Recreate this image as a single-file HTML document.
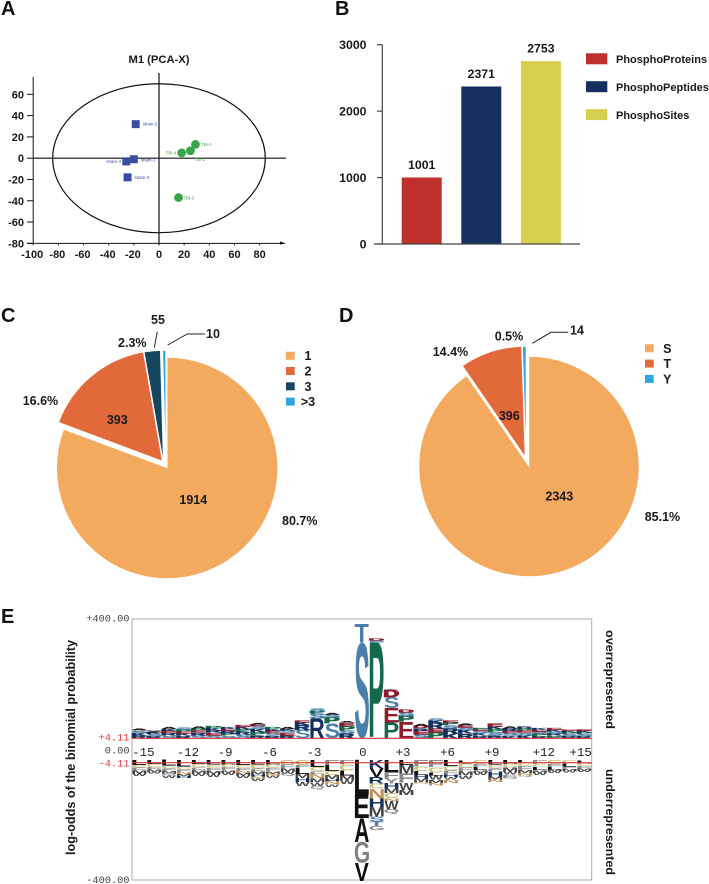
<!DOCTYPE html>
<html lang="en">
<head>
<meta charset="utf-8">
<title>Phosphoproteomics figure</title>
<style>
html,body{margin:0;padding:0;background:#fff;}
svg{display:block;font-family:"Liberation Sans",Arial,sans-serif;}
.b{font-weight:bold;fill:#1a1a1a;}
.m{font-family:"Liberation Mono",monospace;}
</style>
</head>
<body>
<svg id="fig" xmlns="http://www.w3.org/2000/svg" width="709" height="884" viewBox="0 0 709 884">
  <rect x="0" y="0" width="709" height="884" fill="#fff"/>
  <text x="1" y="15" font-size="20" font-weight="bold" fill="#111">A</text>
  <text x="335" y="15" font-size="20" font-weight="bold" fill="#111">B</text>
  <text x="1" y="322" font-size="20" font-weight="bold" fill="#111">C</text>
  <text x="339" y="322" font-size="20" font-weight="bold" fill="#111">D</text>
  <text x="1" y="623" font-size="20" font-weight="bold" fill="#111">E</text>

  <g id="panelA">
    <text class="b" x="159" y="63" font-size="11.2" text-anchor="middle">M1 (PCA-X)</text>
  </g>
  <g id="panelB"></g>
  <g id="panelC"></g>
  <g id="panelD"></g>
  <g id="panelE">
    <text class="b" transform="translate(75 855) rotate(-90)" font-size="12.5" textLength="215" lengthAdjust="spacingAndGlyphs">log-odds of the binomial probability</text>
    <text class="b" transform="translate(606 630) rotate(90)" font-size="11.5" textLength="99" lengthAdjust="spacingAndGlyphs">overrepresented</text>
    <text class="b" transform="translate(606 769) rotate(90)" font-size="11.5" textLength="106" lengthAdjust="spacingAndGlyphs">underrepresented</text>
  </g>
</svg>

<script>
// ---------- Panel A data ----------
var pcaXTicks = [-100,-80,-60,-40,-20,0,20,40,60,80];
var pcaYTicks = [60,40,20,0,-20,-40,-60,-80];
var pcaLabels = ['sham-1','sham-2','sham-3','sham-4','TBI-1','TBI-2','TBI-3','TBI-4'];
var pcaXValues = [-20,-18.5,-25,-26,29,25,15.5,18];
var pcaYValues = [-1,32,-18,-3,13,7,-37,5];
var pcaEllipseX = 84.5;
var pcaEllipseY = 70;

// ---------- Panel B data ----------
var barCategories = ['PhosphoProteins','PhosphoPeptides','PhosphoSites'];
var barValues = [1001,2371,2753];
var barTicks = [0,1000,2000,3000];

// ---------- Panel C data ----------
var cCategories = ['1','2','3','>3'];
var cValues = [1914,393,55,10];
var cPercentLabels = ['80.7%','16.6%','2.3%',''];

// ---------- Panel D data ----------
var dCategories = ['S','T','Y'];
var dCounts = [2343,396,14];
var dPercentLabels = ['85.1%','14.4%','0.5%'];
// slice shares as actually drawn in the picture (%)
var dDrawnShares = [90.4,9.1,0.5];

// ---------- Panel E data ----------
var logoPositions = ['-15','-14','-13','-12','-11','-10','-9','-8','-7','-6','-5','-4','-3','-2','-1','0','+1','+2','+3','+4','+5','+6','+7','+8','+9','+10','+11','+12','+13','+14','+15'];
var logoTickLabels = ['-15','-12','-9','-6','-3','0','+3','+6','+9','+12','+15'];
var logoUpper = [
 'R:9 K:7 S:5 G:4 A:3','R:7 S:6 K:5 A:3 G:3','S:8 R:8 E:7 K:6 A:6','R:8 K:7 E:6 P:6 S:5','S:9 R:8 E:7 P:6 A:5',
 'S:9 E:8 R:7 K:7 P:6','S:8 P:7 R:7 E:6 K:6','S:11 R:9 P:8 K:7 E:5','R:10 P:9 K:9 S:9 E:5 A:4','R:8 S:8 E:7 K:6 P:5',
 'R:9 E:8 S:7 K:5 A:5','S:25 R:15 K:9 E:5','R:61 S:15 P:8 S:7','S:46 P:18 S:9 A:4','R:15 S:9 P:14 E:10 A:3',
 'S:293 T:58','P:293 S:6 D:6','P:48 E:44 S:34 D:22 A:2','E:51 P:17 S:11 D:10','S:12 E:11 R:8 D:7 A:5',
 'P:18 E:12 R:17 K:8 S:6','K:15 R:15 S:10 P:9 E:6','R:14 K:11 S:8 E:7 A:4','R:8 K:7 S:7 E:5 P:4','R:10 S:9 P:9 K:8 E:10',
 'K:8 S:8 E:7 R:7 A:5','K:9 S:8 E:7 P:6 R:5','R:7 P:7 S:6 E:6 K:5','P:8 R:7 S:6 K:5 E:5','R:7 S:6 P:5 K:4 E:3','R:7 S:6 P:5 K:5 E:4'
];
var logoLower = [
 'L:15 C:8 F:9 M:9 W:8','L:12 C:9 F:8 M:7 W:5','L:17 C:9 F:7 M:8 Q:7 W:7','L:20 C:9 F:8 N:6 M:7 H:5','L:12 C:10 F:10 M:9 W:8',
 'L:14 C:10 F:9 M:10 W:9','L:13 C:9 F:9 M:8 W:7','L:15 C:10 F:9 N:6 M:8 W:7','L:14 C:12 F:9 M:10 H:6 N:5 W:8','L:14 C:11 F:9 M:8 N:6 W:7',
 'C:15 F:11 M:9 W:7 Q:7','C:15 F:10 L:18 M:12 H:12 W:12','L:22 C:12 F:10 N:13 M:12 W:10 Q:10','F:16 L:18 C:12 M:12 H:7 N:9 W:8','F:14 C:18 L:16 M:13 W:12',
 'L:107 E:70 A:73 G:64 V:55','K:26 V:26 R:20 C:15 N:30 H:26 M:30 S:15 T:14 G:12','L:36 F:20 Y:15 H:17 M:13 C:15 N:10 W:25 Q:14','L:16 M:25 F:28 W:22 M:16','F:20 C:14 L:12 H:9 M:12 N:4',
 'F:22 C:16 L:10 W:12 M:10 N:8','L:18 C:14 F:12 H:8 W:8 N:10','L:10 C:14 F:12 M:12 W:10','C:12 F:10 L:9 M:8 W:7','L:14 C:12 F:8 H:16 M:10 N:7',
 'L:12 C:11 M:12 W:10 F:8 Q:5','L:9 C:10 F:12 M:9 N:6 Q:6','F:12 C:10 L:9 M:8 W:7','C:12 F:9 L:8 M:6 W:5','C:10 L:10 F:7 M:6 W:5','L:10 C:9 F:7 M:6 W:5'
];

// ---------- helpers ----------
var NS = 'http://www.w3.org/2000/svg';
function el(parent, tag, attrs, txt) {
  var e = document.createElementNS(NS, tag);
  for (var k in attrs) e.setAttribute(k, attrs[k]);
  if (txt !== undefined) e.textContent = txt;
  parent.appendChild(e);
  return e;
}
function named(e, name, inter) {
  
  
  return e;
}

// ---------- Panel A ----------
(function () {
  var g = document.getElementById('panelA');
  function px(v) { return 159 + v * 1.258; }
  function py(v) { return 158.2 - v * 1.064; }
  var axisY = py(-80), axisX = px(-100);
  var ell = el(g, 'ellipse', {cx: px(0), cy: py(0), rx: pcaEllipseX * 1.258, ry: pcaEllipseY * 1.064, fill: 'none', stroke: '#111', 'stroke-width': 1.2});
  named(ell, 'hotelling-ellipse', false);
  var yAxis = el(g, 'line', {x1: axisX, x2: axisX, y1: 77, y2: axisY, stroke: '#111', 'stroke-width': 1});
  named(yAxis, 'pca-y-axis', false);
  var xAxis = el(g, 'line', {x1: 27, x2: 284, y1: axisY, y2: axisY, stroke: '#111', 'stroke-width': 1});
  named(xAxis, 'pca-x-axis', false);
  var arrow = el(g, 'polygon', {points: '280,' + (axisY - 1.8) + ' 286,' + axisY + ' 280,' + (axisY + 1.2), fill: '#111'});
  named(arrow, 'pca-x-axis-arrow', false);
  var c1 = el(g, 'line', {x1: px(0), x2: px(0), y1: 73, y2: axisY, stroke: '#111', 'stroke-width': 1.2});
  named(c1, 'pca-zero-vertical', false);
  var c2 = el(g, 'line', {x1: axisX, x2: 286, y1: py(0), y2: py(0), stroke: '#111', 'stroke-width': 1.2});
  named(c2, 'pca-zero-horizontal', false);
  pcaYTicks.forEach(function (t) {
    var tick = el(g, 'line', {x1: 27, x2: axisX, y1: py(t), y2: py(t), stroke: '#111', 'stroke-width': 1});
    named(tick, 'pca-y-tick', false);
    var lab = el(g, 'text', {x: 24, y: py(t) + 4, 'font-size': 11, 'text-anchor': 'end', 'class': 'b'}, String(t));
    named(lab, 'pca-y-tick-label', false);
  });
  pcaXTicks.forEach(function (t) {
    var tick = el(g, 'line', {x1: px(t), x2: px(t), y1: axisY, y2: axisY + 2, stroke: '#111', 'stroke-width': 1});
    named(tick, 'pca-x-tick', false);
    var lab = el(g, 'text', {x: px(t) - (t < 0 ? 1 : 0), y: 258, 'font-size': 11, 'text-anchor': 'middle', 'class': 'b'}, String(t));
    named(lab, 'pca-x-tick-label', false);
  });
  var labelOffsets = {'sham-1': [7, 2], 'sham-2': [7, 1.5], 'sham-3': [7, 1.5], 'sham-4': [-20, 1.5], 'TBI-1': [5.5, 1.5], 'TBI-2': [4, 10], 'TBI-3': [5, 2], 'TBI-4': [-16, 1.5]};
  pcaLabels.forEach(function (name, i) {
    var x = px(pcaXValues[i]), y = py(pcaYValues[i]);
    var isSham = name.indexOf('sham') === 0;
    var col = isSham ? '#3a4da0' : '#3aa548';
    var mark;
    if (isSham) {
      mark = el(g, 'rect', {x: x - 4, y: y - 4, width: 8, height: 8, fill: col});
    } else {
      mark = el(g, 'circle', {cx: x, cy: y, r: 4.4, fill: col});
    }
    named(mark, 'pca-point-' + name.toLowerCase(), false);
    var off = labelOffsets[name];
    var lab = el(g, 'text', {x: x + off[0], y: y + off[1], 'font-size': 4.4, fill: col}, name);
    named(lab, 'pca-point-label', false);
  });
})();

// ---------- Panel B ----------
(function () {
  var g = document.getElementById('panelB');
  var colors = ['#c0302a', '#15305e', '#d6d04f'];
  function vy(v) { return 244 - v * (199.3 / 3000); }
  function bx(i) { return 401.7 + i * 59.6; }
  barValues.forEach(function (v, i) {
    var bar = el(g, 'rect', {x: bx(i), y: vy(v), width: 40, height: 244 - vy(v), fill: colors[i]});
    named(bar, 'bar-' + barCategories[i].toLowerCase(), false);
    var lab = el(g, 'text', {x: bx(i) + 20, y: vy(v) - 8.5, 'font-size': 12.3, 'text-anchor': 'middle', 'class': 'b'}, String(v));
    named(lab, 'bar-value-label', false);
    var sw = el(g, 'rect', {x: 586, y: 53.3 + i * 27.9, width: 21.3, height: 11, fill: colors[i]});
    named(sw, 'legend-swatch', false);
    var lt = el(g, 'text', {x: 616, y: 63 + i * 27.9, 'font-size': 11, 'class': 'b'}, barCategories[i]);
    named(lt, 'legend-entry', false);
  });
  var yAxis = el(g, 'line', {x1: 382.3, x2: 382.3, y1: vy(3000), y2: 244, stroke: '#444', 'stroke-width': 1.2});
  named(yAxis, 'bar-y-axis', false);
  var xAxis = el(g, 'line', {x1: 374, x2: 580, y1: 244, y2: 244, stroke: '#444', 'stroke-width': 1.2});
  named(xAxis, 'bar-x-axis', false);
  barTicks.forEach(function (t) {
    var tick = el(g, 'line', {x1: 377, x2: 382.3, y1: vy(t), y2: vy(t), stroke: '#444', 'stroke-width': 1.2});
    named(tick, 'bar-y-tick', false);
    var lab = el(g, 'text', {x: 366.5, y: vy(t) + 4.5, 'font-size': 12.3, 'text-anchor': 'end', 'class': 'b'}, String(t));
    named(lab, 'bar-y-tick-label', false);
  });
})();

// ---------- Pies ----------
var pieColors = ['#f3a95e', '#e1693a', '#16465e', '#2ba6e0'];
function drawPie(g, cx, cy, r, shares, offsets, prefix) {
  var total = shares.reduce(function (a, b) { return a + b; }, 0);
  var ang = 0;
  shares.forEach(function (v, i) {
    var a0 = ang / total * 2 * Math.PI;
    ang += v;
    var a1 = ang / total * 2 * Math.PI;
    var ox = cx + offsets[i][0], oy = cy + offsets[i][1];
    var x0 = ox + r * Math.sin(a0), y0 = oy - r * Math.cos(a0);
    var x1 = ox + r * Math.sin(a1), y1 = oy - r * Math.cos(a1);
    var large = (a1 - a0) > Math.PI ? 1 : 0;
    var colorIdx = (prefix === 'residue' && i === 2) ? 3 : i;
    var p = el(g, 'path', {d: 'M' + ox + ' ' + oy + 'L' + x0 + ' ' + y0 + 'A' + r + ' ' + r + ' 0 ' + large + ' 1 ' + x1 + ' ' + y1 + 'Z', fill: pieColors[colorIdx], stroke: '#fff', 'stroke-width': 0.6});
    named(p, prefix + '-slice-' + i, false);
  });
}
function pieText(g, s, x, y, anchor, name) {
  var t = el(g, 'text', {x: x, y: y, 'font-size': 12.5, 'text-anchor': anchor, 'class': 'b'}, s);
  named(t, name, false);
}
function pieLegend(g, cats, sx, sy, tx, idx) {
  cats.forEach(function (c, i) {
    var s = el(g, 'rect', {x: sx, y: sy + i * 15.3, width: 8.7, height: 8, fill: pieColors[idx[i]]});
    named(s, 'legend-swatch', false);
    var t = el(g, 'text', {x: tx, y: sy + 8.5 + i * 15.3, 'font-size': 12.5, 'text-anchor': 'middle', 'class': 'b'}, c);
    named(t, 'legend-entry', false);
  });
}
(function () {
  var g = document.getElementById('panelC');
  drawPie(g, 167.2, 468, 110.5, cValues, [[0, 0], [-5, -7], [-4, -7], [-1.5, -7]], 'count');
  pieText(g, String(cValues[0]), 193.3, 504, 'middle', 'slice-count-label');
  pieText(g, String(cValues[1]), 117.3, 424, 'middle', 'slice-count-label');
  pieText(g, String(cValues[2]), 158, 324, 'middle', 'slice-count-label');
  pieText(g, String(cValues[3]), 206, 338, 'start', 'slice-count-label');
  pieText(g, cPercentLabels[0], 282, 525, 'start', 'slice-percent-label');
  pieText(g, cPercentLabels[1], 22.7, 405, 'start', 'slice-percent-label');
  pieText(g, cPercentLabels[2], 132.3, 347, 'middle', 'slice-percent-label');
  var l1 = el(g, 'line', {x1: 157.3, y1: 331.7, x2: 154.3, y2: 347.7, stroke: '#222', 'stroke-width': 1});
  named(l1, 'leader-line', false);
  var l2 = el(g, 'polyline', {points: '167.7,345 187.3,334 205,334', fill: 'none', stroke: '#222', 'stroke-width': 1});
  named(l2, 'leader-line', false);
  pieLegend(g, cCategories, 286, 351.7, 308, [0, 1, 2, 3]);
})();
(function () {
  var g = document.getElementById('panelD');
  drawPie(g, 529, 466.5, 110, dDrawnShares, [[0, 0], [-4, -10], [-3, -10]], 'residue');
  pieText(g, String(dCounts[0]), 559.3, 500.7, 'middle', 'slice-count-label');
  pieText(g, String(dCounts[1]), 509.3, 420, 'middle', 'slice-count-label');
  pieText(g, String(dCounts[2]), 570, 334.3, 'start', 'slice-count-label');
  pieText(g, dPercentLabels[0], 644.7, 521, 'start', 'slice-percent-label');
  pieText(g, dPercentLabels[1], 432.7, 356, 'start', 'slice-percent-label');
  pieText(g, dPercentLabels[2], 509, 340.7, 'middle', 'slice-percent-label');
  var l = el(g, 'polyline', {points: '532.3,343.3 551,332.3 568.3,332.3', fill: 'none', stroke: '#222', 'stroke-width': 1});
  named(l, 'leader-line', false);
  pieLegend(g, dCategories, 645, 344.3, 667.3, [0, 1, 3]);
})();

// ---------- Panel E ----------
(function () {
  var g = document.getElementById('panelE');
  var left = 132, right = 591.7, top = 619, bottom = 880, upperBase = 738.3, lowerBase = 760, redLow = 762.7;
  var colW = (right - left) / logoPositions.length;
  var unit = 0.3275;
  var residueColor = {S: '#4a7eab', T: '#4a7eab', P: '#14694a', E: '#8e1c2c', D: '#8e1c2c', R: '#12305f', K: '#12305f', H: '#12305f', L: '#111', A: '#111', V: '#111', I: '#111', M: '#111', W: '#111', G: '#808080', F: '#8a8a8a', Y: '#8a8a8a', Q: '#8a8a8a', C: '#c9c070', N: '#c09058'};
  var ctx = document.createElement('canvas').getContext('2d');
  ctx.font = 'bold 100px "Liberation Sans"';

  var frame = el(g, 'rect', {x: left, y: top, width: right - left, height: bottom - top, fill: 'none', stroke: '#aaa', 'stroke-width': 1});
  named(frame, 'logo-frame', false);

  function colCenter(pos) { return left + colW * (logoPositions.indexOf(pos) + 0.5); }
  function drawLetter(ch, cx, yTop, h, lower) {
    var m = ctx.measureText(ch);
    var inkW = m.actualBoundingBoxLeft + m.actualBoundingBoxRight;
    var inkH = m.actualBoundingBoxAscent + m.actualBoundingBoxDescent;
    var w = colW - 0.7;
    var sx = w / inkW, sy = h / inkH;
    var tx = cx - w / 2 + m.actualBoundingBoxLeft * sx;
    var ty = yTop + m.actualBoundingBoxAscent * sy;
    var col = (lower && ch === 'E') ? '#111' : (residueColor[ch] || '#111');
    var t = el(g, 'text', {transform: 'translate(' + tx.toFixed(2) + ' ' + ty.toFixed(2) + ') scale(' + sx.toFixed(4) + ' ' + sy.toFixed(4) + ')', 'font-size': 100, 'font-weight': 'bold', fill: col}, ch);
    if (lower && (ch === 'M' || ch === 'W')) {
      t.setAttribute('fill', '#444');
    }
    if (!lower && h < 8) {
      t.setAttribute('stroke', col);
      t.setAttribute('stroke-width', '7');
    }
    named(t, 'logo-letter-' + ch.toLowerCase(), false);
  }
  logoPositions.forEach(function (pos, i) {
    var cx = colCenter(pos);
    var y = upperBase;
    logoUpper[i].split(' ').forEach(function (part) {
      var bits = part.split(':');
      var h = parseFloat(bits[1]) * unit;
      y -= h;
      drawLetter(bits[0], cx, y, h, false);
    });
    y = lowerBase;
    logoLower[i].split(' ').forEach(function (part) {
      var bits = part.split(':');
      var h = parseFloat(bits[1]) * unit;
      drawLetter(bits[0], cx, y, h, true);
      y += h;
    });
  });

  var r1 = el(g, 'line', {x1: left, x2: right, y1: upperBase, y2: upperBase, stroke: '#d9383a', 'stroke-width': 1.1});
  named(r1, 'upper-significance-line', false);
  var r2 = el(g, 'line', {x1: left, x2: right, y1: redLow, y2: redLow, stroke: '#d9383a', 'stroke-width': 1.1});
  named(r2, 'lower-significance-line', false);

  logoTickLabels.forEach(function (s) {
    var shift = s.length === 3 ? 4 : (s.length === 2 ? -3.3 : 1);
    var x = Math.min(colCenter(s) + shift, right - 11);
    var t = el(g, 'text', {x: x, y: 756, 'font-size': 12.4, 'text-anchor': 'middle', 'class': 'm', fill: '#222'}, s);
    named(t, 'position-tick-label', false);
  });
  var yLabels = [['+400.00', 621.5, '#444'], ['+4.11', 740.5, '#d9383a'], ['0.00', 753.7, '#444'], ['-4.11', 766.7, '#d9383a'], ['-400.00', 883, '#444']];
  yLabels.forEach(function (d) {
    var t = el(g, 'text', {x: 129.5, y: d[1], 'font-size': 10.3, 'text-anchor': 'end', 'class': 'm', fill: d[2]}, d[0]);
    named(t, 'logo-y-tick-label', false);
  });
})();
</script>
</body>
</html>
